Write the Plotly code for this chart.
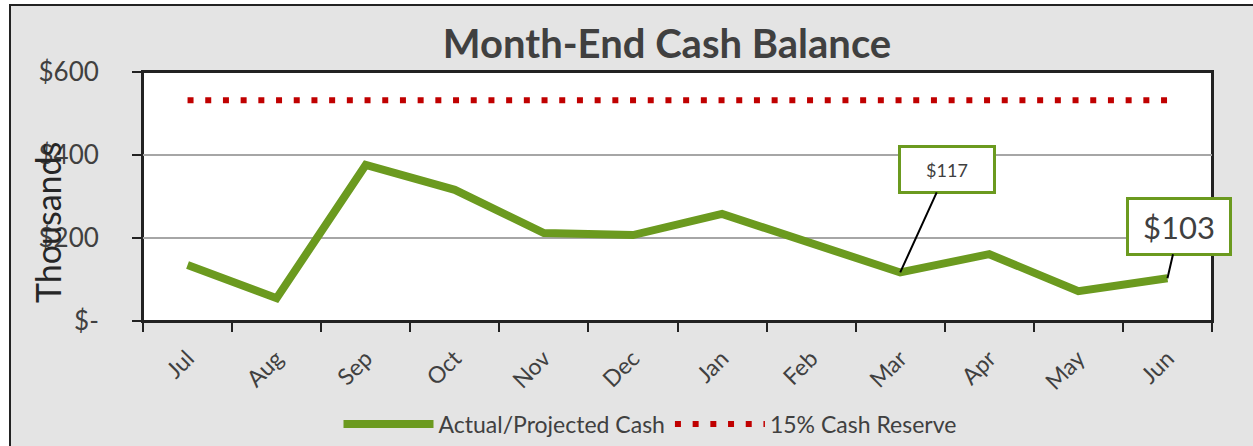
import plotly.graph_objects as go

months = ["Jul", "Aug", "Sep", "Oct", "Nov", "Dec", "Jan", "Feb", "Mar", "Apr", "May", "Jun"]
cash = [135, 55, 376, 316, 212, 207, 258, 188, 117, 161, 72, 103]
reserve = [532] * 12
y_tickvals = [0, 200, 400, 600]
y_ticktext = ["$-", "$200", "$400", "$600"]

W, H = 1253, 446
L, R, T, B = 143, 41, 72, 125
PW, PH = W - L - R, H - T - B

def px_x(px):
    return (px - L) / PW

def px_y(py):
    return (H - B - py) / PH

GREEN = "#6B9A1F"
RED = "#C00000"
TXT = "#404040"
FONT = "Lato"

fig = go.Figure()
fig.add_trace(go.Scatter(
    x=months, y=cash, mode="lines", name="Actual/Projected Cash",
    line=dict(color=GREEN, width=8),
))
fig.add_trace(go.Scatter(
    x=months, y=reserve, mode="lines", name="15% Cash Reserve",
    line=dict(color=RED, width=6, dash="6px,11.7px"),
))

fig.update_layout(
    width=W, height=H,
    margin=dict(l=L, r=R, t=T, b=B, autoexpand=False),
    paper_bgcolor="white",
    plot_bgcolor="white",
    font=dict(family=FONT, color=TXT),
    title=dict(text="<b>Month-End Cash Balance</b>", x=px_x(667), xref="paper",
               xanchor="center", y=1 - 44 / H, yref="container", yanchor="middle",
               font=dict(size=40, color=TXT, family=FONT)),
    showlegend=True,
    legend=dict(orientation="h", x=px_x(650), xref="paper", xanchor="center",
                y=1 - 424 / H, yref="container", yanchor="middle",
                font=dict(size=23, color=TXT),
                bgcolor="rgba(0,0,0,0)", itemwidth=90),
    shapes=[
        dict(type="rect", xref="paper", yref="paper",
             x0=px_x(10), x1=px_x(1275), y0=px_y(470), y1=px_y(5),
             fillcolor="#E4E4E4", line=dict(color="#222222", width=2), layer="below"),
        dict(type="rect", xref="paper", yref="paper",
             x0=0, x1=1, y0=0, y1=1,
             fillcolor="white", line=dict(color="#222222", width=2), layer="below"),
    ],
)

fig.update_xaxes(
    type="category", range=[-0.5, 11.5], tickson="boundaries", automargin=False,
    ticks="outside", ticklen=9, tickwidth=2, tickcolor="#222222",
    showline=True, linecolor="#222222", linewidth=2, mirror=True,
    showgrid=False, tickangle=-45, tickfont=dict(size=23, color=TXT),
    ticklabelstandoff=13,
)
fig.update_yaxes(
    range=[0, 600], tickvals=y_tickvals, ticktext=y_ticktext, automargin=False,
    ticks="outside", ticklen=9, tickwidth=2, tickcolor="#222222",
    showline=True, linecolor="#222222", linewidth=2, mirror=True,
    showgrid=True, gridcolor="#A6A6A6", gridwidth=1.5, zeroline=False,
    tickfont=dict(size=26, color=TXT), ticklabelstandoff=28,
)

# axis title "Thousands" overlapping ticks as in reference
fig.add_annotation(text="Thousands", xref="paper", yref="paper",
                   x=px_x(47), y=px_y(223), textangle=-90, showarrow=False,
                   font=dict(size=34, color="#262626"), xanchor="center", yanchor="middle")

# data callouts
fig.add_annotation(x="Mar", y=cash[months.index("Mar")], text="$" + str(cash[months.index("Mar")]),
                   showarrow=True, arrowhead=0, arrowwidth=2, arrowcolor="black",
                   ax=47, ay=-103, bgcolor="white", bordercolor=GREEN, borderwidth=3,
                   width=92, height=43, borderpad=0, font=dict(size=18, color=TXT))
fig.add_annotation(x="Jun", y=cash[months.index("Jun")], text="$" + str(cash[months.index("Jun")]),
                   showarrow=True, arrowhead=0, arrowwidth=2, arrowcolor="black",
                   ax=12, ay=-52, bgcolor="white", bordercolor=GREEN, borderwidth=3,
                   width=100, height=53, borderpad=0, font=dict(size=31, color=TXT))

fig.write_html("out.html", config={"displayModeBar": False},
               post_script="document.body.style.margin='0px';")
